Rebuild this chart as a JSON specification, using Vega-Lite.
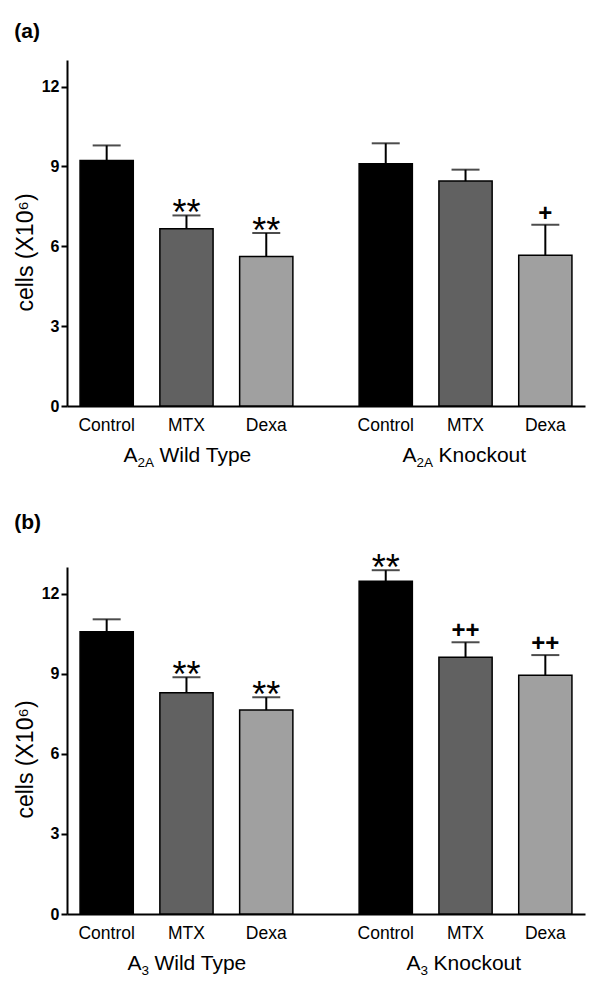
{
  "$schema": "https://vega.github.io/schema/vega-lite/v6.json",
  "padding": {"left": 14, "top": 21, "right": 5, "bottom": 5},
  "spacing": 42,
  "config": {
    "font": "Liberation Sans",
    "view": {"stroke": null},
    "axis": {"grid": false, "domainColor": "black", "domainWidth": 2, "tickColor": "black", "tickWidth": 2, "labelColor": "black", "titleColor": "black"},
    "title": {"anchor": "start", "frame": "bounds", "fontSize": 21, "fontWeight": "bold", "offset": 18, "color": "black"}
  },
  "vconcat": [
    {
      "title": "(a)",
      "width": 518,
      "height": 346,
      "layer": [
        {
          "data": {"name": "pa", "values": [
            {"group": "WT", "treatment": "Control", "value": 9.22, "upper": 9.79, "sig": ""},
            {"group": "WT", "treatment": "MTX", "value": 6.66, "upper": 7.16, "sig": "**"},
            {"group": "WT", "treatment": "Dexa", "value": 5.62, "upper": 6.50, "sig": "**"},
            {"group": "KO", "treatment": "Control", "value": 9.10, "upper": 9.87, "sig": ""},
            {"group": "KO", "treatment": "MTX", "value": 8.45, "upper": 8.88, "sig": ""},
            {"group": "KO", "treatment": "Dexa", "value": 5.66, "upper": 6.81, "sig": "+"}
          ]},
          "encoding": {
            "x": {"field": "group", "type": "nominal", "sort": ["WT", "KO"], "scale": {"domain": ["WT", "KO"], "paddingInner": 0.2374, "paddingOuter": 0.0468}, "axis": {"labels": false, "ticks": false, "title": null, "domain": true}},
            "xOffset": {"field": "treatment", "type": "nominal", "scale": {"domain": ["Control", "MTX", "Dexa"], "paddingInner": 0.333, "paddingOuter": 0}}
          },
          "layer": [
            {
              "mark": {"type": "bar", "stroke": "black", "strokeWidth": 1.5},
              "encoding": {
                "y": {"field": "value", "type": "quantitative", "scale": {"domain": [0, 13], "nice": false}, "axis": {"values": [0, 3, 6, 9, 12], "tickSize": 6, "labelPadding": 2, "labelFontSize": 16, "labelFontWeight": "bold", "title": "cells (X10⁶)", "titleFontSize": 23, "titleFontWeight": "normal", "titlePadding": 4, "titleY": 192}},
                "color": {"field": "treatment", "type": "nominal", "scale": {"domain": ["Control", "MTX", "Dexa"], "range": ["#000000", "#616161", "#a0a0a0"]}, "legend": null}
              }
            },
            {
              "mark": {"type": "rule", "color": "black", "strokeWidth": 2},
              "encoding": {"y": {"field": "value", "type": "quantitative"}, "y2": {"field": "upper"}}
            },
            {
              "mark": {"type": "tick", "color": "black", "thickness": 2, "size": 28},
              "encoding": {"y": {"field": "upper", "type": "quantitative"}}
            },
            {
              "transform": [{"filter": "datum.sig == '**'"}],
              "mark": {"type": "text", "fontSize": 36, "baseline": "alphabetic", "dy": 10, "color": "black"},
              "encoding": {"y": {"field": "upper", "type": "quantitative"}, "text": {"field": "sig"}}
            },
            {
              "transform": [{"filter": "datum.sig == '+' || datum.sig == '++'"}],
              "mark": {"type": "text", "fontSize": 24, "fontWeight": "bold", "baseline": "alphabetic", "dy": -4, "color": "black"},
              "encoding": {"y": {"field": "upper", "type": "quantitative"}, "text": {"field": "sig"}}
            },
            {
              "mark": {"type": "text", "fontSize": 17.5, "baseline": "alphabetic", "dy": 25, "color": "black"},
              "encoding": {"y": {"datum": 0}, "text": {"field": "treatment"}}
            }
          ]
        },
        {
          "data": {"values": [{"group": "WT", "pre": "A", "sub": "2A", "rest": "Wild Type"}, {"group": "KO", "pre": "A", "sub": "2A", "rest": "Knockout"}]},
          "encoding": {"x": {"field": "group", "type": "nominal"}, "y": {"datum": 0}},
          "layer": [
            {"mark": {"type": "text", "fontSize": 21, "baseline": "alphabetic", "align": "right", "dx": -49, "dy": 56, "color": "black"}, "encoding": {"text": {"field": "pre"}}},
            {"mark": {"type": "text", "fontSize": 13.5, "baseline": "alphabetic", "align": "left", "dx": -49, "dy": 61, "color": "black"}, "encoding": {"text": {"field": "sub"}}},
            {"mark": {"type": "text", "fontSize": 21, "baseline": "alphabetic", "align": "left", "dx": -27, "dy": 56, "color": "black"}, "encoding": {"text": {"field": "rest"}}}
          ]
        }
      ]
    },
    {
      "title": "(b)",
      "width": 518,
      "height": 347,
      "layer": [
        {
          "data": {"name": "pb", "values": [
            {"group": "WT", "treatment": "Control", "value": 10.57, "upper": 11.04, "sig": ""},
            {"group": "WT", "treatment": "MTX", "value": 8.29, "upper": 8.87, "sig": "**"},
            {"group": "WT", "treatment": "Dexa", "value": 7.64, "upper": 8.12, "sig": "**"},
            {"group": "KO", "treatment": "Control", "value": 12.47, "upper": 12.88, "sig": "**"},
            {"group": "KO", "treatment": "MTX", "value": 9.62, "upper": 10.18, "sig": "++"},
            {"group": "KO", "treatment": "Dexa", "value": 8.94, "upper": 9.70, "sig": "++"}
          ]},
          "encoding": {
            "x": {"field": "group", "type": "nominal", "sort": ["WT", "KO"], "scale": {"domain": ["WT", "KO"], "paddingInner": 0.2374, "paddingOuter": 0.0468}, "axis": {"labels": false, "ticks": false, "title": null, "domain": true}},
            "xOffset": {"field": "treatment", "type": "nominal", "scale": {"domain": ["Control", "MTX", "Dexa"], "paddingInner": 0.333, "paddingOuter": 0}}
          },
          "layer": [
            {
              "mark": {"type": "bar", "stroke": "black", "strokeWidth": 1.5},
              "encoding": {
                "y": {"field": "value", "type": "quantitative", "scale": {"domain": [0, 13], "nice": false}, "axis": {"values": [0, 3, 6, 9, 12], "tickSize": 6, "labelPadding": 2, "labelFontSize": 16, "labelFontWeight": "bold", "title": "cells (X10⁶)", "titleFontSize": 23, "titleFontWeight": "normal", "titlePadding": 4, "titleY": 192}},
                "color": {"field": "treatment", "type": "nominal", "scale": {"domain": ["Control", "MTX", "Dexa"], "range": ["#000000", "#616161", "#a0a0a0"]}, "legend": null}
              }
            },
            {
              "mark": {"type": "rule", "color": "black", "strokeWidth": 2},
              "encoding": {"y": {"field": "value", "type": "quantitative"}, "y2": {"field": "upper"}}
            },
            {
              "mark": {"type": "tick", "color": "black", "thickness": 2, "size": 28},
              "encoding": {"y": {"field": "upper", "type": "quantitative"}}
            },
            {
              "transform": [{"filter": "datum.sig == '**'"}],
              "mark": {"type": "text", "fontSize": 36, "baseline": "alphabetic", "dy": 10, "color": "black"},
              "encoding": {"y": {"field": "upper", "type": "quantitative"}, "text": {"field": "sig"}}
            },
            {
              "transform": [{"filter": "datum.sig == '+' || datum.sig == '++'"}],
              "mark": {"type": "text", "fontSize": 24, "fontWeight": "bold", "baseline": "alphabetic", "dy": -4, "color": "black"},
              "encoding": {"y": {"field": "upper", "type": "quantitative"}, "text": {"field": "sig"}}
            },
            {
              "mark": {"type": "text", "fontSize": 17.5, "baseline": "alphabetic", "dy": 25, "color": "black"},
              "encoding": {"y": {"datum": 0}, "text": {"field": "treatment"}}
            }
          ]
        },
        {
          "data": {"values": [{"group": "WT", "pre": "A", "sub": "3", "rest": "Wild Type"}, {"group": "KO", "pre": "A", "sub": "3", "rest": "Knockout"}]},
          "encoding": {"x": {"field": "group", "type": "nominal"}, "y": {"datum": 0}},
          "layer": [
            {"mark": {"type": "text", "fontSize": 21, "baseline": "alphabetic", "align": "right", "dx": -45, "dy": 56, "color": "black"}, "encoding": {"text": {"field": "pre"}}},
            {"mark": {"type": "text", "fontSize": 13.5, "baseline": "alphabetic", "align": "left", "dx": -45, "dy": 61, "color": "black"}, "encoding": {"text": {"field": "sub"}}},
            {"mark": {"type": "text", "fontSize": 21, "baseline": "alphabetic", "align": "left", "dx": -32, "dy": 56, "color": "black"}, "encoding": {"text": {"field": "rest"}}}
          ]
        }
      ]
    }
  ]
}
